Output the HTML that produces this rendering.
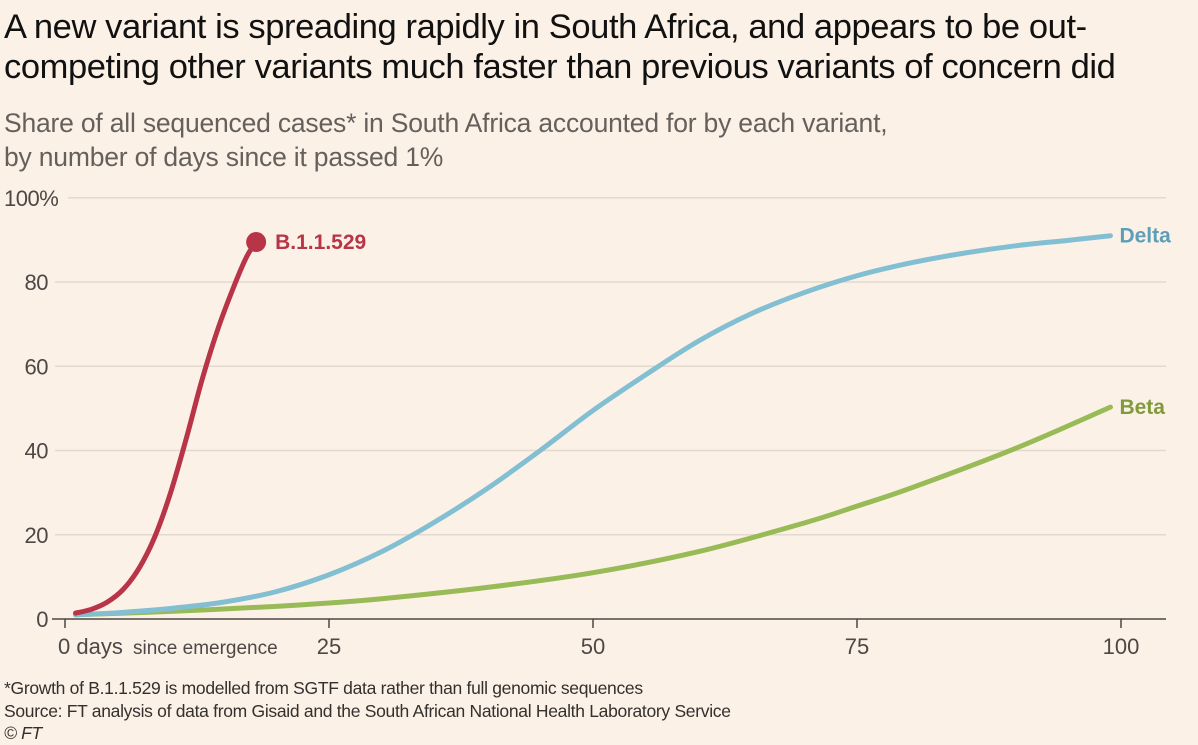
<!DOCTYPE html>
<html><head><meta charset="utf-8"><style>
html,body{margin:0;padding:0;background:#fcf1e6;}
body{width:1198px;height:743px;overflow:hidden;font-family:"Liberation Sans",sans-serif;position:relative;}
.t{position:absolute;left:4px;color:#111;white-space:nowrap;}
</style></head><body>
<div class="t" style="top:7px;font-size:34.5px;line-height:40px;letter-spacing:-0.4px;">A new variant is spreading rapidly in South Africa, and appears to be out-<br>competing other variants much faster than previous variants of concern did</div>
<div class="t" style="top:106px;font-size:26.5px;line-height:34px;color:#66605c;letter-spacing:-0.2px;">Share of all sequenced cases* in South Africa accounted for by each variant,<br>by number of days since it passed 1%</div>
<div class="t" style="top:677px;font-size:17.5px;line-height:22.5px;color:#33302e;letter-spacing:-0.3px;">*Growth of B.1.1.529 is modelled from SGTF data rather than full genomic sequences<br>Source: FT analysis of data from Gisaid and the South African National Health Laboratory Service<br><i>© FT</i></div>
<svg id="chart" width="1198" height="743" style="position:absolute;left:0;top:0"></svg>
<script>
const yTicks=[0,20,40,60,80,100];
const yTickLabels=["0","20","40","60","80","100%"];
const xTicks=[0,25,50,75,100];
const xTickLabels=["0 days","25","50","75","100"];
const omicronDays=[1,2.5,4,5.5,7,8.5,10,11.5,13,14.5,16,17.2,18.1];
const omicronVals=[1.4,2.3,4,7,12,19.5,30,43,57,69,79,86,89.5];
const deltaDays=[1,5,10,15,20,25,30,35,40,45,50,55,60,65,70,75,80,85,90,95,99];
const deltaVals=[1,1.5,2.5,4,6.5,10.5,16,23,31,40,49.5,58,66,72.5,77.5,81.5,84.5,86.8,88.6,89.9,91];
const betaDays=[1,10,20,25,30,40,50,60,70,75,80,90,99];
const betaVals=[1,1.8,3,3.8,4.8,7.5,11,16,22.8,26.8,31,40.5,50.3];
const NS="http://www.w3.org/2000/svg";
const svg=document.getElementById('chart');
const X=d=>65+d*10.56, Y=v=>619-v*4.212;
function mk(t,a){const e=document.createElementNS(NS,t);for(const k in a)e.setAttribute(k,a[k]);svg.appendChild(e);return e;}
yTicks.forEach((v,i)=>{
  if(v>0){const g=mk('line',{x1:i==5?68:55,x2:1166,y1:Y(v),y2:Y(v),stroke:'#e3d9cf','stroke-width':1.5});
  
  }
  const t=mk('text',{x:i==5?4:48,y:Y(v)+8,'font-size':22,fill:'#4d4845','text-anchor':i==5?'start':'end','letter-spacing':'-0.5'});
  t.textContent=yTickLabels[i];
  
  
});
const ax=mk('line',{x1:52,x2:1166,y1:619,y2:619,stroke:'#4d4845','stroke-width':1.5});


xTicks.forEach((d,i)=>{
  const tk=mk('line',{x1:X(d),x2:X(d),y1:619,y2:628,stroke:'#4d4845','stroke-width':1.5});
  
  
  const t=mk('text',{x:i==0?X(d)-7:X(d),y:654,'font-size':22,fill:'#4d4845','text-anchor':i==0?'start':'middle'});
  t.textContent=xTickLabels[i];
  
  
});
const se=mk('text',{x:133,y:654,'font-size':19,fill:'#4d4845'});se.textContent='since emergence';


function path(ds,vs){const p=ds.map((d,i)=>[X(d),Y(vs[i])]);let s='M'+p[0];
 for(let i=0;i<p.length-1;i++){const p0=p[i-1]||p[i],p1=p[i],p2=p[i+1],p3=p[i+2]||p2;
  s+=' C'+(p1[0]+(p2[0]-p0[0])/6)+','+(p1[1]+(p2[1]-p0[1])/6)+' '+(p2[0]-(p3[0]-p1[0])/6)+','+(p2[1]-(p3[1]-p1[1])/6)+' '+p2;}
 return s;}
function series(ds,vs,col,name,label,lc){
 const l=mk('path',{d:path(ds,vs),fill:'none',stroke:col,'stroke-width':5,'stroke-linecap':'round'});
 
 
 const n=ds.length-1;
 const t=mk('text',{x:X(ds[n])+(name=='b11529'?19:9),y:Y(vs[n])+7,'font-size':21,'font-weight':'bold',fill:lc});
 t.textContent=label;
 
 
}
series(betaDays,betaVals,'#98bb57','beta','Beta','#7f9b3c');
series(deltaDays,deltaVals,'#83bfd2','delta','Delta','#5d9fb8');
series(omicronDays,omicronVals,'#b83447','b11529','B.1.1.529','#b83447');
const dot=mk('circle',{cx:X(omicronDays[omicronDays.length-1]),cy:Y(omicronVals[omicronVals.length-1]),r:10,fill:'#b83447'});


</script>
</body></html>
